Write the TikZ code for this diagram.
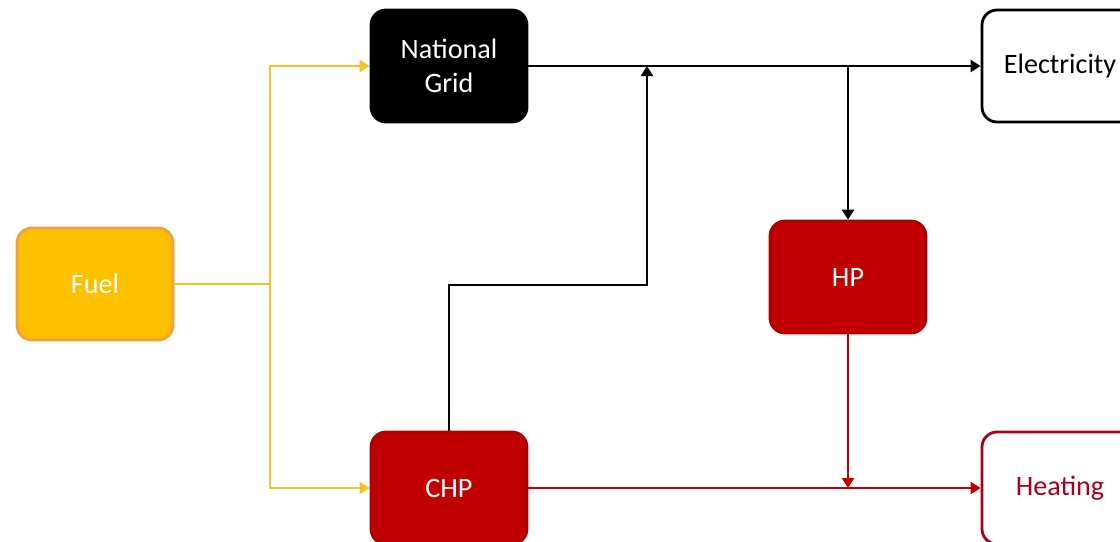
\documentclass[tikz,border=0pt]{standalone}
\usepackage{fontspec}
\setmainfont{Carlito}
\usetikzlibrary{arrows.meta,positioning}
\definecolor{fuelfill}{HTML}{FFC000}
\definecolor{fueledge}{HTML}{F0A040}
\definecolor{fuelline}{HTML}{F5C325}
\definecolor{heatred}{HTML}{C00000}
\definecolor{heatedge}{HTML}{A8001A}

\begin{document}
\begin{tikzpicture}[
  blk/.style={rectangle, rounded corners=0.3cm, line width=1.6pt,
    minimum width=3.12cm, minimum height=2.24cm, align=center,
    font=\fontsize{16}{19}\selectfont},
  tip/.style={-{Triangle[length=0.2cm, width=0.24cm]}},
  ylink/.style={fuelline, line width=1.6pt},
  elink/.style={black, line width=1.6pt},
  hlink/.style={heatred, line width=1.6pt}
]
  \useasboundingbox (0,0) rectangle (22.4,-10.82);

  \node[blk, fill=fuelfill, draw=fueledge, text=white] (fuel) at (1.9,-5.68) {Fuel};
  \node[blk, fill=black, draw=black, text=white] (grid) at (8.98,-1.32) {National\\Grid};
  \node[blk, fill=white, draw=black] (elec) at (21.2,-1.32) {Electricity};
  \node[blk, fill=heatred, draw=heatred!90!black, text=white] (hp) at (16.96,-5.54) {HP};
  \node[blk, fill=heatred, draw=heatred!90!black, text=white] (chp) at (8.98,-9.76) {CHP};
  \node[blk, fill=white, draw=heatedge, text=heatedge] (heat) at (21.2,-9.76) {Heating};

  % fuel split
  \coordinate (fj) at (5.4,-5.68);
  \draw[ylink] (fuel.east) -- (fj);
  \draw[ylink, tip] (fj) |- (grid.west);
  \draw[ylink, tip] (fj) |- (chp.west);

  % electricity
  \coordinate (gj) at (12.94,-1.32);
  \coordinate (cb) at (12.94,-5.7);
  \coordinate (hj) at (hp.north |- grid.east);
  \draw[elink, tip] (grid.east) -- (elec.west);
  \draw[elink, tip] (chp.north) |- (cb) -- (gj);
  \draw[elink, tip] (hj) -- (hp.north);

  % heat
  \coordinate (hb) at (hp.south |- chp.east);
  \draw[hlink, tip] (chp.east) -- (heat.west);
  \draw[hlink, tip] (hp.south) -- (hb);
\end{tikzpicture}
\end{document}
